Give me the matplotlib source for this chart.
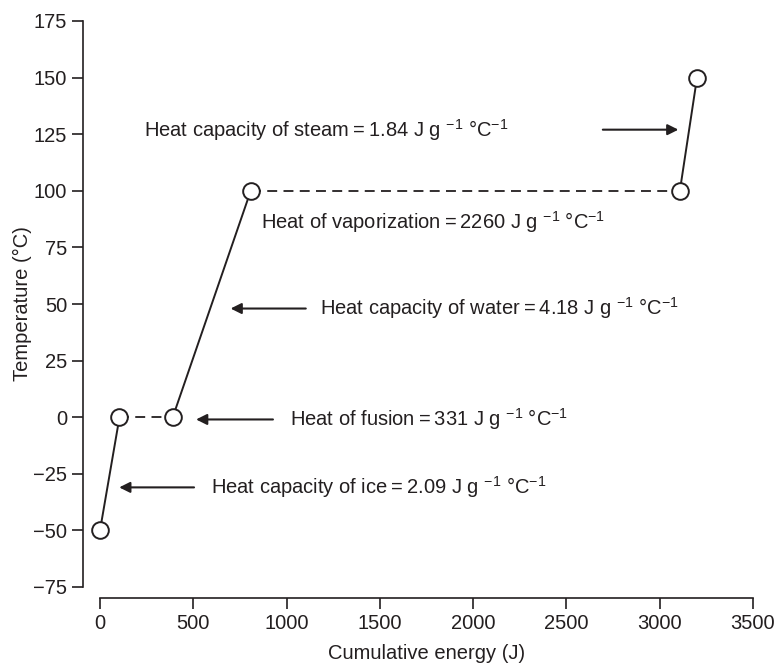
import matplotlib
matplotlib.use("Agg")
import matplotlib.pyplot as plt

plt.rcParams['font.family'] = ['Liberation Sans', 'DejaVu Sans']
plt.rcParams['mathtext.fontset'] = 'custom'
plt.rcParams['mathtext.rm'] = 'Liberation Sans'

# Data
energy = [0, 104.5, 390, 808, 3108, 3200]
temperature = [-50, 0, 0, 100, 100, 150]
segment_style = ['solid', 'dashed', 'solid', 'dashed', 'solid']

xticks = [0, 500, 1000, 1500, 2000, 2500, 3000, 3500]
yticks = [-75, -50, -25, 0, 25, 50, 75, 100, 125, 150, 175]

labels = [
    "Heat capacity of steam\u2009=\u20091.84 J g $^{\u22121}$ \u00b0C$^{\u22121}$",
    "Heat of vaporization\u2009=\u20092260 J g $^{\u22121}$ \u00b0C$^{\u22121}$",
    "Heat capacity of water\u2009=\u20094.18 J g $^{\u22121}$ \u00b0C$^{\u22121}$",
    "Heat of fusion\u2009=\u2009331 J g $^{\u22121}$ \u00b0C$^{\u22121}$",
    "Heat capacity of ice\u2009=\u20092.09 J g $^{\u22121}$ \u00b0C$^{\u22121}$",
]
label_pos = [(236, 127), (862, 86), (1178, 48), (1018, -1), (595, -31)]
arrows = [((2695, 127), (3100, 127)),
          None,
          ((1103, 48), (700, 48)),
          ((927, -1), (515, -1)),
          ((504, -31), (103, -31))]

FS = 14.5
INK = '#231f20'

fig = plt.figure(figsize=(7.78, 6.64), dpi=100)
ax = fig.add_axes([100/778, 77/664, 653/778, 566/664])

for i, ls in enumerate(segment_style):
    if ls == 'dashed':
        ax.plot(energy[i:i+2], temperature[i:i+2], color=INK, lw=1.3,
                linestyle=(0, (5.5, 3.5)), clip_on=False, zorder=2)
    else:
        ax.plot(energy[i:i+2], temperature[i:i+2], color=INK, lw=1.4,
                clip_on=False, zorder=2)

ax.plot(energy, temperature, linestyle='none', marker='o', markersize=12,
        markerfacecolor='white', markeredgecolor=INK, markeredgewidth=1.4,
        clip_on=False, zorder=3)

for txt, pos in zip(labels, label_pos):
    ax.text(pos[0], pos[1], txt, fontsize=FS, ha='left', va='center', color=INK)

for ar in arrows:
    if ar is None:
        continue
    (x0, y0), (x1, y1) = ar
    ax.annotate('', xy=(x1, y1), xytext=(x0, y0),
                arrowprops=dict(arrowstyle='-|>', color=INK, lw=1.5,
                                mutation_scale=16, shrinkA=0, shrinkB=0))

ax.set_xlim(0, 3500)
ax.set_ylim(-75, 175)
ax.set_xticks(xticks)
ax.set_yticks(yticks)
ax.set_yticklabels([str(v).replace('-', '\u2212') for v in yticks])
ax.tick_params(labelsize=FS, length=8, width=1.2, colors=INK)
for s in ['top', 'right']:
    ax.spines[s].set_visible(False)
ax.spines['left'].set_position(('outward', 12))
ax.spines['bottom'].set_position(('outward', 8))
ax.spines['left'].set_linewidth(1.2)
ax.spines['bottom'].set_linewidth(1.2)
ax.spines['left'].set_color(INK)
ax.spines['bottom'].set_color(INK)
ax.set_xlabel('Cumulative energy (J)', fontsize=FS, color=INK, labelpad=8)
ax.set_ylabel('Temperature (\u00b0C)', fontsize=FS, color=INK, labelpad=1)

fig.savefig('out.png', dpi=100)
